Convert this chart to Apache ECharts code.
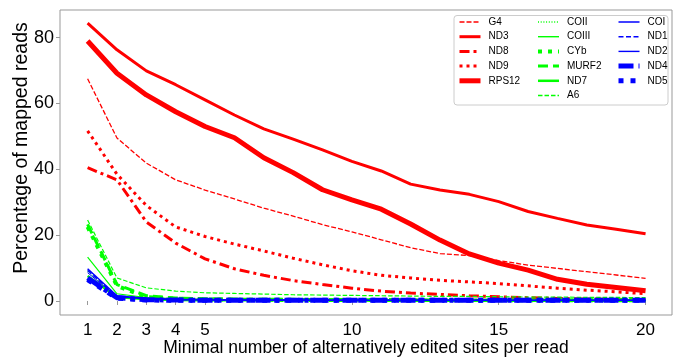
<!DOCTYPE html>
<html><head><meta charset="utf-8">
<script src="https://cdn.jsdelivr.net/npm/echarts@6/dist/echarts.min.js"></script>
<style>html,body{margin:0;padding:0;background:#fff}#c{width:676px;height:360px}</style>
</head><body><div id="c"></div><script>
const xValues = [1,2,3,4,5,6,7,8,9,10,11,12,13,14,15,16,17,18,19,20];
const xTicks = [1,2,3,4,5,10,15,20];
const yTicks = [0,20,40,60,80];

const G4    = [67.5,49.5,41.9,36.8,33.7,31.0,28.2,25.8,23.2,21.0,18.6,16.2,14.4,13.8,12.3,10.9,9.9,8.9,7.9,6.9];
const ND3   = [84.4,76.3,69.9,65.7,61.1,56.5,52.3,49.2,45.9,42.4,39.5,35.5,33.7,32.4,30.2,27.2,25.1,23.1,21.8,20.4];
const ND8   = [40.5,36.8,24.0,17.6,12.8,9.8,7.8,6.2,5.0,3.9,3.0,2.4,2.0,1.6,1.3,1.0,0.8,0.6,0.5,0.4];
const ND9   = [51.7,38.5,29.0,22.5,19.6,17.3,15.2,13.0,11.0,9.2,7.8,7.0,6.3,5.8,5.3,4.6,3.9,3.3,2.8,2.2];
const RPS12 = [79.0,69.2,62.6,57.5,53.0,49.6,43.5,39.0,33.8,30.7,27.9,23.4,18.5,14.3,11.5,9.4,6.6,5.1,4.1,3.1];

const COII  = [9.0,1.5,0.7,0.5,0.4,0.3,0.3,0.3,0.2,0.2,0.2,0.2,0.2,0.2,0.2,0.2,0.2,0.2,0.2,0.2];
const COIII = [13.3,2.2,1.0,0.7,0.5,0.4,0.4,0.3,0.3,0.3,0.3,0.3,0.2,0.2,0.2,0.2,0.2,0.2,0.2,0.2];
const CYb   = [22.5,4.6,1.2,0.7,0.5,0.4,0.4,0.3,0.3,0.3,0.3,0.3,0.3,0.2,0.2,0.2,0.2,0.2,0.2,0.2];
const MURF2 = [23.3,5.0,1.6,0.9,0.7,0.6,0.5,0.5,0.4,0.4,0.4,0.4,0.3,0.3,0.3,0.3,0.3,0.3,0.3,0.3];
const ND7   = [7.6,1.2,0.5,0.3,0.2,0.2,0.2,0.2,0.2,0.2,0.1,0.1,0.1,0.1,0.1,0.1,0.1,0.1,0.1,0.1];
const A6    = [24.6,7.0,4.0,3.0,2.5,2.3,2.1,1.9,1.8,1.7,1.6,1.5,1.4,1.4,1.3,1.2,1.2,1.1,1.1,1.0];

const COI   = [9.8,1.6,0.8,0.5,0.4,0.3,0.3,0.3,0.3,0.2,0.2,0.2,0.2,0.2,0.2,0.2,0.2,0.2,0.2,0.2];
const ND1   = [9.3,1.4,0.7,0.4,0.3,0.3,0.3,0.2,0.2,0.2,0.2,0.2,0.2,0.2,0.2,0.2,0.2,0.2,0.2,0.2];
const ND2   = [8.6,1.3,0.6,0.4,0.3,0.3,0.2,0.2,0.2,0.2,0.2,0.2,0.2,0.2,0.2,0.2,0.2,0.2,0.2,0.2];
const ND4   = [7.0,1.0,0.4,0.3,0.2,0.2,0.2,0.2,0.2,0.2,0.2,0.2,0.2,0.2,0.2,0.2,0.2,0.2,0.2,0.2];
const ND5   = [6.5,0.9,0.3,0.2,0.2,0.2,0.2,0.2,0.2,0.2,0.2,0.2,0.2,0.2,0.2,0.2,0.2,0.2,0.2,0.2];

const legendCol1 = ['G4','ND3','ND8','ND9','RPS12'];
const legendCol2 = ['COII','COIII','CYb','MURF2','ND7','A6'];
const legendCol3 = ['COI','ND1','ND2','ND4','ND5'];

const xTitle = 'Minimal number of alternatively edited sites per read';
const yTitle = 'Percentage of mapped reads';

const RED = '#ff0000', GREEN = '#00ff00', BLUE = '#0000ff';
const FONT = 'Liberation Sans, Arial, sans-serif';

const styles = {};
function mk(name, vals, color, width, dash) {
  styles[name] = { color, width: Math.max(width, 1.4), type: dash || 'solid', cap: 'butt', opacity: 1 };
  return {
    name, type: 'line', symbol: 'none', showSymbol: false, silent: true,
    data: xValues.map((x, i) => [x, vals[i]]),
    lineStyle: { color, width, type: dash || 'solid', cap: 'butt' },
    itemStyle: { color }
  };
}

const series = [
  mk('G4', G4, RED, 1.3, [5, 2]),
  mk('ND3', ND3, RED, 3, 'solid'),
  mk('ND8', ND8, RED, 3, [10, 4, 3, 4]),
  mk('ND9', ND9, RED, 3, [3, 4]),
  mk('RPS12', RPS12, RED, 5, 'solid'),
  mk('COII', COII, GREEN, 1, [1, 1.7]),
  mk('COIII', COIII, GREEN, 1.2, 'solid'),
  mk('CYb', CYb, GREEN, 4, [4, 6]),
  mk('MURF2', MURF2, GREEN, 3, [10, 5]),
  mk('ND7', ND7, GREEN, 2.5, 'solid'),
  mk('A6', A6, GREEN, 1.2, [4.5, 2]),
  mk('COI', COI, BLUE, 1.5, 'solid'),
  mk('ND1', ND1, BLUE, 1.5, [5, 2.5]),
  mk('ND2', ND2, BLUE, 1, 'solid'),
  mk('ND4', ND4, BLUE, 5, [15, 5, 4, 5]),
  mk('ND5', ND5, BLUE, 5, [5, 7])
];

function legendCol(names, left) {
  return {
    data: names.map(n => ({ name: n, lineStyle: Object.assign({}, styles[n]) })),
    orient: 'vertical', left, top: 16, padding: 0,
    itemGap: 2.7, itemWidth: 21, itemHeight: 12, selectedMode: false, z: 6,
    itemStyle: { color: 'rgba(0,0,0,0)', borderWidth: 0, opacity: 0 },
    textStyle: { fontSize: 10, fontFamily: FONT, color: '#000', lineHeight: 12, padding: [0, 0, 0, 3] }
  };
}

const chart = echarts.init(document.getElementById('c'), null, { renderer: 'canvas' });
chart.setOption({
  animation: false,
  backgroundColor: '#fff',
  grid: { left: 60, right: 4, top: 10, bottom: 45, show: true, borderColor: '#999', borderWidth: 1, containLabel: false, outerBoundsMode: 'none' },
  xAxis: {
    type: 'value', min: 0.06, max: 20.9,
    splitLine: { show: false }, axisLine: { show: false },
    axisTick: { show: true, customValues: xTicks, length: 4, lineStyle: { color: '#999' } },
    axisLabel: { customValues: xTicks, fontSize: 17, color: '#000', margin: 7, fontFamily: FONT },
    name: xTitle, nameLocation: 'middle', nameGap: 24,
    nameMoveOverlap: false,
    nameTextStyle: { fontSize: 17.5, fontFamily: FONT, color: '#000' }
  },
  yAxis: {
    type: 'value', min: -4.25, max: 88.4,
    splitLine: { show: false }, axisLine: { show: false },
    axisTick: { show: true, customValues: yTicks, length: 4, lineStyle: { color: '#999' } },
    axisLabel: { customValues: yTicks, fontSize: 18, color: '#000', margin: 6, fontFamily: FONT }
  },
  legend: [legendCol(legendCol1, 457), legendCol(legendCol2, 536), legendCol(legendCol3, 616)],
  graphic: [{
    type: 'rect', z: 3, silent: true,
    shape: { x: 454, y: 15.5, width: 214, height: 89.5, r: 3 },
    style: { fill: 'rgba(255,255,255,0.85)', stroke: '#ccc', lineWidth: 1 }
  }, {
    type: 'text', z: 5, silent: true, x: 21.5, y: 148, rotation: Math.PI / 2,
    style: { text: yTitle, fontSize: 19.5, fontFamily: FONT, fill: '#000', align: 'center', verticalAlign: 'middle' }
  }],
  series
});
</script></body></html>
